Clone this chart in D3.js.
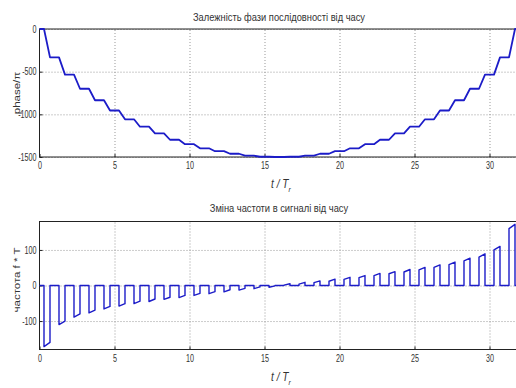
<!DOCTYPE html>
<html>
<head>
<meta charset="utf-8">
<script src="https://cdn.jsdelivr.net/npm/d3@7"></script>
<style>
  body { margin: 0; background: #fff; }
  svg text { font-family: "Liberation Sans", Arial, sans-serif; fill: #333; }
  .grid line { stroke: #999; stroke-dasharray: 1,2; }
  .grid .domain { display: none; }
</style>
</head>
<body>
<svg id="canvas" width="516" height="388"></svg>
<script>
// time of each pulse (start / end), in t / T_r
const pulseStart = [0.3, 1.3, 2.3, 3.3, 4.3, 5.3, 6.3, 7.3, 8.3, 9.3, 10.3, 11.3, 12.3, 13.3, 14.3, 15.3,
                    16.3, 17.3, 18.3, 19.3, 20.3, 21.3, 22.3, 23.3, 24.3, 25.3, 26.3, 27.3, 28.3, 29.3, 30.3, 31.3];
const pulseEnd = [0.7, 1.7, 2.7, 3.7, 4.7, 5.7, 6.7, 7.7, 8.7, 9.7, 10.7, 11.7, 12.7, 13.7, 14.7, 15.7,
                  16.7, 17.7, 18.7, 19.7, 20.7, 21.7, 22.7, 23.7, 24.7, 25.7, 26.7, 27.7, 28.7, 29.7, 30.7, 31.7];

// phase plateaus (phase/pi) between pulses
const phaseLevels = [0, -332, -535, -700, -835, -955, -1058, -1145, -1222, -1298, -1350, -1398, -1432, -1462, -1485, -1497,
                     -1500, -1497, -1485, -1462, -1432, -1398, -1350, -1298, -1222, -1145, -1058, -955, -835, -700, -535, -332, 0];

// frequency f*T at start / end of each pulse
const freqStart = [-172, -110, -89, -77, -66, -58, -51, -45, -39, -34, -28, -23, -18, -13, -9, -5,
                   1, 4, 8, 12, 17, 22, 28, 33, 38, 44, 51, 59, 69, 80, 100, 160];
const freqEnd = [-160, -100, -80, -69, -59, -51, -44, -38, -33, -28, -22, -17, -12, -8, -4, -1,
                 5, 9, 13, 18, 23, 28, 34, 39, 45, 51, 58, 66, 77, 89, 110, 172];

const xTicks = [0, 5, 10, 15, 20, 25, 30];
const phaseTicks = [-1500, -1000, -500, 0];
const freqTicks = [-100, 0, 100];

const canvas = d3.select("#canvas");
const lineColor = "#1c1cc8";
const squash = 0.72; // the reference text is horizontally condensed

const x = d3.scaleLinear().domain([0, 32]).range([39.5, 519.5]);

function drawPanel(opts) {
    const y = d3.scaleLinear().domain(opts.domain).range([opts.bottom, opts.top]);
    const g = canvas.append("g");
    const h = opts.bottom - opts.top;
    const w = x.range()[1] - x.range()[0];

    // grid
    g.append("g").attr("class", "grid")
        .attr("transform", `translate(0,${opts.bottom})`)
        .call(d3.axisBottom(x).tickValues(xTicks.slice(1)).tickSize(-h).tickFormat(""));
    g.append("g").attr("class", "grid")
        .attr("transform", `translate(${x.range()[0]},0)`)
        .call(d3.axisLeft(y).tickValues(opts.ticks).tickSize(-w).tickFormat(""));

    // axes with inner ticks
    const xa = g.append("g")
        .attr("transform", `translate(0,${opts.bottom})`)
        .call(d3.axisBottom(x).tickValues(xTicks).tickSize(-3).tickPadding(5).tickFormat(d => String(d)));
    const ya = g.append("g")
        .attr("transform", `translate(${x.range()[0]},0)`)
        .call(d3.axisLeft(y).tickValues(opts.ticks).tickSize(-3).tickPadding(4).tickFormat(d => String(d)));
    [xa, ya].forEach(a => {
        a.selectAll("text").style("font-size", "10px").attr("fill", "#333")
            .attr("transform", `scale(${squash},1)`);
        a.selectAll("line").attr("stroke", "#222");
        a.select(".domain").remove();
    });

    // box
    g.append("rect")
        .attr("x", x.range()[0]).attr("y", opts.top)
        .attr("width", w).attr("height", h)
        .attr("fill", "none").attr("stroke", "#222").attr("stroke-width", 1);

    // data line
    g.append("path")
        .datum(opts.points)
        .attr("d", d3.line().x(d => x(d[0])).y(d => y(d[1])))
        .attr("fill", "none")
        .attr("stroke", lineColor)
        .attr("stroke-width", opts.lineWidth)
        .attr("stroke-linejoin", "round");

    // title
    g.append("text")
        .attr("transform", `translate(279,${opts.titleY}) scale(0.81,1)`)
        .attr("text-anchor", "middle")
        .style("font-size", "11.5px")
        .text(opts.title);

    // y label
    g.append("text")
        .attr("transform", `translate(20,${opts.ylabelY}) rotate(-90) scale(1,0.85)`)
        .attr("text-anchor", "middle")
        .style("font-size", "11.5px")
        .text(opts.ylabel);

    // x label t / T_r
    const xl = g.append("text")
        .attr("transform", `translate(271,${opts.bottom + 31}) scale(0.85,1)`)
        .style("font-size", "12px")
        .style("font-style", "italic");
    xl.append("tspan").text("t / T");
    xl.append("tspan").attr("dy", 4).style("font-size", "8px").text("r");
}

// phase points: plateau, then slope during pulse
const phasePoints = [[0, phaseLevels[0]]];
pulseStart.forEach((s, i) => {
    phasePoints.push([s, phaseLevels[i]]);
    phasePoints.push([pulseEnd[i], phaseLevels[i + 1]]);
});
phasePoints.push([32, phaseLevels[phaseLevels.length - 1]]);

// frequency points: zero outside pulses
const freqPoints = [[0, 0]];
pulseStart.forEach((s, i) => {
    freqPoints.push([s, 0], [s, freqStart[i]], [pulseEnd[i], freqEnd[i]], [pulseEnd[i], 0]);
});
freqPoints.push([32, 0]);

drawPanel({
    top: 29, bottom: 157, domain: [-1500, 0], ticks: phaseTicks,
    points: phasePoints, lineWidth: 1.8,
    title: "Залежність фази послідовності від часу", titleY: 21,
    ylabel: "phase/π", ylabelY: 93
});

drawPanel({
    top: 221.5, bottom: 349.5, domain: [-180, 180], ticks: freqTicks,
    points: freqPoints, lineWidth: 1.4,
    title: "Зміна частоти в сигналі від часу", titleY: 212,
    ylabel: "частота f * T", ylabelY: 280
});
</script>
</body>
</html>
